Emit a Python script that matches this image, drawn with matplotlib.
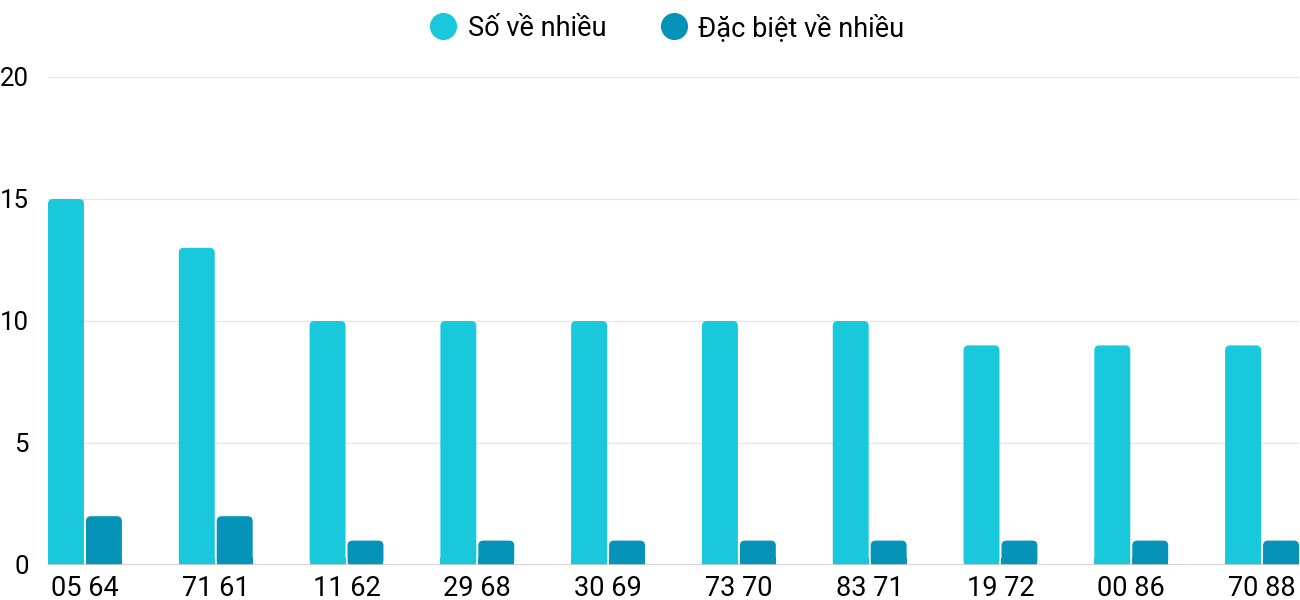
import matplotlib.pyplot as plt
from matplotlib.patches import FancyBboxPatch, Rectangle
from matplotlib.lines import Line2D

plt.rcParams['font.family'] = ['Roboto', 'DejaVu Sans']

categories = ["05 64", "71 61", "11 62", "29 68", "30 69", "73 70", "83 71", "19 72", "00 86", "70 88"]
so_ve_nhieu = [15, 13, 10, 10, 10, 10, 10, 9, 9, 9]
dac_biet = [2, 2, 1, 1, 1, 1, 1, 1, 1, 1]
series_names = ["Số về nhiều", "Đặc biệt về nhiều"]
colors = ["#1ac8db", "#0593b8"]

# geometry in "group" units: one group step = 131 px
step_px = 131.0
bar_w = 36 / step_px
gap = 2 / step_px
y_px = 24.4  # px per data unit
r_px = 5.0


def rounded_bar(ax, x, h, color):
    rx = r_px / step_px
    ry = r_px / y_px
    if h <= 0:
        return
    box = FancyBboxPatch((x, 0), bar_w, h,
                         boxstyle=f"round,pad=0,rounding_size={rx}",
                         mutation_aspect=ry / rx, facecolor=color,
                         edgecolor='none', zorder=3)
    ax.add_patch(box)
    # square off bottom corners
    ax.add_patch(Rectangle((x, 0), bar_w, min(h, ry * 1.5), facecolor=color,
                           edgecolor='none', zorder=3))


fig = plt.figure(figsize=(13, 6), dpi=100)
ax = fig.add_axes([48 / 1300, 35 / 600, 1251 / 1300, 488 / 600])

for i in range(len(categories)):
    rounded_bar(ax, i, so_ve_nhieu[i], colors[0])
    rounded_bar(ax, i + bar_w + gap, dac_biet[i], colors[1])

ax.set_xlim(0, len(categories) - 1 + 2 * bar_w + gap)
ax.set_ylim(0, 20)
ax.set_yticks([0, 5, 10, 15, 20])
ax.set_xticks([i + bar_w + gap / 2 for i in range(len(categories))])
ax.set_xticklabels(categories)

for y in [5, 10, 15, 20]:
    ax.axhline(y, color="#e6e6e6", lw=1, zorder=1)
ax.axhline(0, color="#cccccc", lw=1.2, zorder=4)

for s in ax.spines.values():
    s.set_visible(False)
ax.tick_params(axis='x', length=0, labelsize=19.5, colors='black', pad=7)
ax.tick_params(axis='y', length=0, labelsize=18.5, colors='black', pad=14)

handles = [Line2D([], [], marker='o', linestyle='none', markersize=18.5,
                  markerfacecolor=c, markeredgecolor=c) for c in colors]
fig.legend(handles, series_names, loc='center', bbox_to_anchor=(667 / 1300, 1 - 28 / 600),
           ncol=2, frameon=False, fontsize=19.5, handletextpad=0.4,
           columnspacing=2.0, handlelength=1.0)

fig.savefig("out.png", dpi=100)
